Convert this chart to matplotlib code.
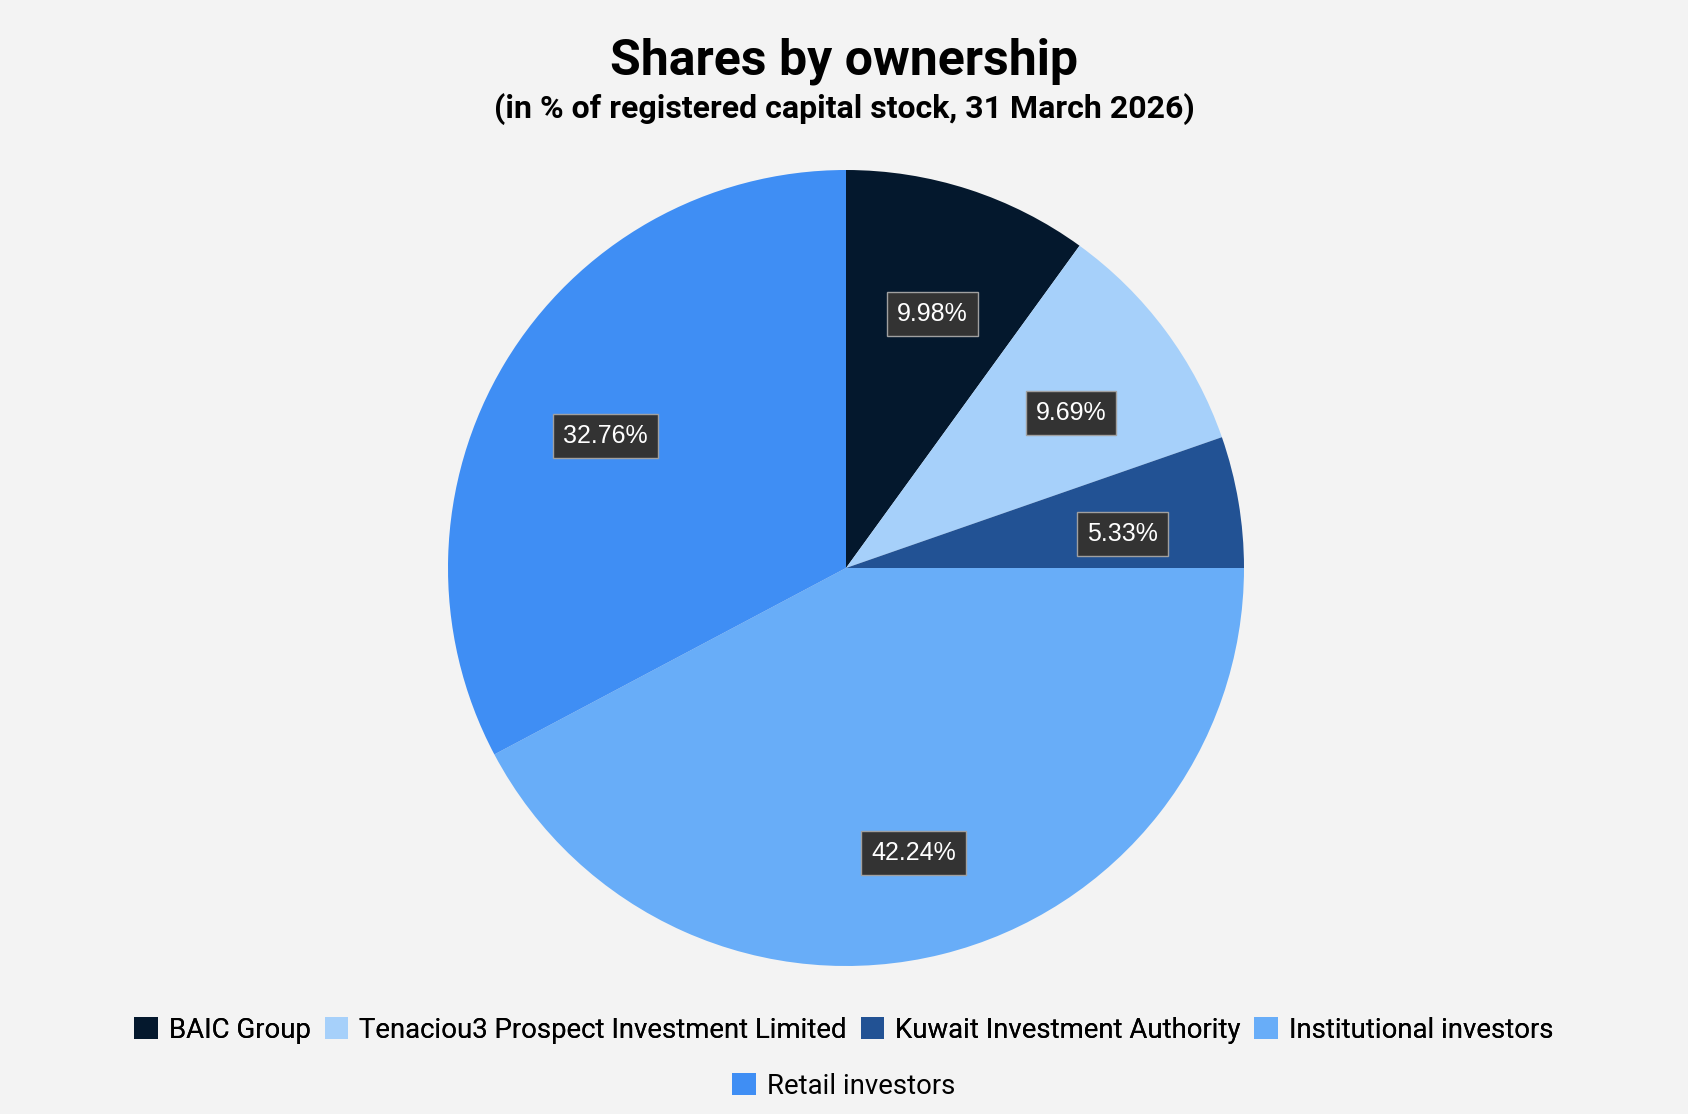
import matplotlib.pyplot as plt
from matplotlib.patches import Patch
from matplotlib.transforms import offset_copy

owners = ["BAIC Group", "Tenaciou3 Prospect Investment Limited",
          "Kuwait Investment Authority", "Institutional investors",
          "Retail investors"]
shares = [9.98, 9.69, 5.33, 42.24, 32.76]
colors = ["#04182d", "#a6d0fa", "#225294", "#68adf8", "#3f8ef4"]

cond = ["Roboto", "DejaVu Sans"]
bg = "#f3f3f3"

fig = plt.figure(figsize=(16.88, 11.14), dpi=100, facecolor=bg)

# pie placed by centre / radius in pixels
W, H = 1688, 1114
cx, cy, r = 846, 568, 398
ax = fig.add_axes([(cx - r) / W, (H - cy - r) / H, 2 * r / W, 2 * r / H])
ax.set_facecolor(bg)

wedges, texts, autotexts = ax.pie(
    shares, colors=colors, startangle=90, counterclock=False,
    autopct=lambda p: f"{p:.2f}%", pctdistance=0.705,
    wedgeprops=dict(linewidth=0), radius=1)
shift = offset_copy(ax.transData, fig=fig, x=0, y=-9, units="points")
for t in autotexts:
    t.set_transform(shift)
    t.set_color("white")
    t.set_fontsize(18)
    t.set_family("Liberation Sans")
    t.set_bbox(dict(boxstyle="square,pad=0.4", facecolor="#333333",
                    edgecolor="#a0a0a0", linewidth=1))
ax.set_xlim(-1, 1)
ax.set_ylim(-1, 1)
ax.set_aspect("equal")
ax.axis("off")

fig.text(0.5, 1 - 61 / H, "Shares by ownership", ha="center", va="center",
         fontsize=36, fontweight="bold", family=cond)
fig.text(0.5, 1 - 109 / H, "(in % of registered capital stock, 31 March 2026)",
         ha="center", va="center", fontsize=23, fontweight="bold", family=cond)

handles = [Patch(facecolor=c, edgecolor="none") for c in colors]
leg_kw = dict(frameon=False, handlelength=0.86, handleheight=0.86,
              handletextpad=0.4, columnspacing=0.5, borderpad=0,
              prop=dict(family=cond, size=19.8))
leg1 = fig.legend(handles[:4], owners[:4], ncol=4, loc="center",
                  bbox_to_anchor=(0.5, 1 - 1030 / H), **leg_kw)
fig.add_artist(leg1)
fig.legend(handles[4:], owners[4:], ncol=1, loc="center",
           bbox_to_anchor=(0.5, 1 - 1086 / H), **leg_kw)

fig.savefig("out.png", dpi=100, facecolor=bg)
